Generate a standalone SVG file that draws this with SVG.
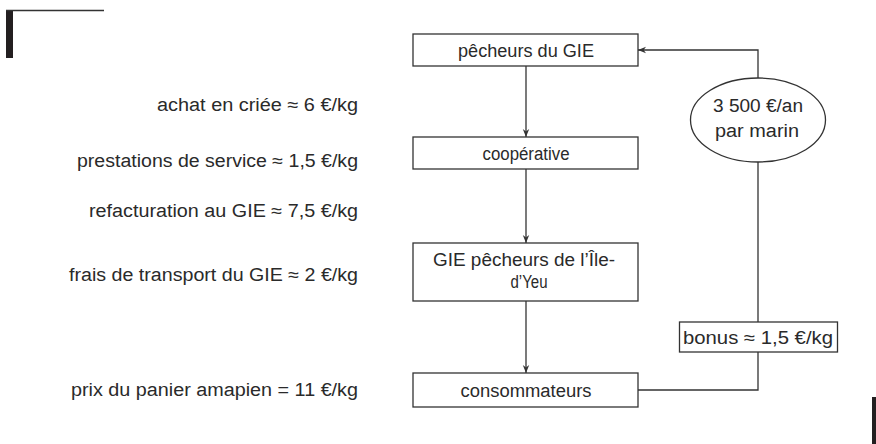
<svg xmlns="http://www.w3.org/2000/svg" width="876" height="444" viewBox="0 0 876 444">
<style>
.t{font-family:"Liberation Sans","DejaVu Sans",sans-serif;font-size:18px;fill:#2a2a2a}
.r{text-anchor:end}
.m{text-anchor:middle}
.box{fill:#fff;stroke:#333;stroke-width:1.3}
.ln{fill:none;stroke:#333;stroke-width:1.3}
</style>
<defs>
<marker id="ah" viewBox="0 0 10 10" refX="10" refY="5" markerWidth="8" markerHeight="8" markerUnits="userSpaceOnUse" orient="auto">
<path d="M0,1 L10,5 L0,9 L3,5 Z" fill="#333"/>
</marker>
</defs>
<rect x="6" y="10" width="7" height="48" fill="#231f20"/>
<line x1="6" y1="10.5" x2="104" y2="10.5" stroke="#333" stroke-width="1.3"/>
<rect x="872" y="397" width="4" height="47" fill="#231f20"/>
<g id="labels">
<text class="t r" x="358" y="111" textLength="201" lengthAdjust="spacingAndGlyphs">achat en criée ≈ 6 €/kg</text>
<text class="t r" x="358" y="167" textLength="281" lengthAdjust="spacingAndGlyphs">prestations de service ≈ 1,5 €/kg</text>
<text class="t r" x="358" y="217" textLength="269" lengthAdjust="spacingAndGlyphs">refacturation au GIE ≈ 7,5 €/kg</text>
<text class="t r" x="358" y="281" textLength="289" lengthAdjust="spacingAndGlyphs">frais de transport du GIE ≈ 2 €/kg</text>
<text class="t r" x="358" y="396" textLength="287" lengthAdjust="spacingAndGlyphs">prix du panier amapien = 11 €/kg</text>
</g>
<g id="connectors">
<line class="ln" x1="526" y1="66" x2="526" y2="137" marker-end="url(#ah)"/>
<line class="ln" x1="526" y1="169" x2="526" y2="243" marker-end="url(#ah)"/>
<line class="ln" x1="526" y1="301" x2="526" y2="373" marker-end="url(#ah)"/>
<polyline class="ln" points="638,390 758,390 758,50 638,50" marker-end="url(#ah)"/>
</g>
<g id="n1">
<rect class="box" x="413" y="34" width="225" height="32"/>
<text class="t m" x="526" y="57" textLength="136" lengthAdjust="spacingAndGlyphs">pêcheurs du GIE</text>
</g>
<g id="n2">
<rect class="box" x="413" y="137" width="225" height="32"/>
<text class="t m" x="526" y="160" textLength="87" lengthAdjust="spacingAndGlyphs">coopérative</text>
</g>
<g id="n3">
<rect class="box" x="413" y="243" width="225" height="58"/>
<text class="t m" x="524" y="266" textLength="182" lengthAdjust="spacingAndGlyphs">GIE pêcheurs de l’Île-</text>
<text class="t m" x="529" y="288" textLength="37" lengthAdjust="spacingAndGlyphs">d’Yeu</text>
</g>
<g id="n4">
<rect class="box" x="413" y="373" width="225" height="34"/>
<text class="t m" x="526" y="397" textLength="131" lengthAdjust="spacingAndGlyphs">consommateurs</text>
</g>
<g id="n5">
<ellipse class="box" cx="758" cy="120" rx="67.5" ry="42"/>
<text class="t m" x="758" y="112" font-size="18" textLength="90" lengthAdjust="spacingAndGlyphs">3 500 €/an</text>
<text class="t m" x="757" y="137" font-size="18" textLength="84" lengthAdjust="spacingAndGlyphs">par marin</text>
</g>
<g id="n6">
<rect class="box" x="679.5" y="322" width="158" height="30"/>
<text class="t m" x="758" y="344" textLength="150" lengthAdjust="spacingAndGlyphs">bonus ≈ 1,5 €/kg</text>
</g>
</svg>
